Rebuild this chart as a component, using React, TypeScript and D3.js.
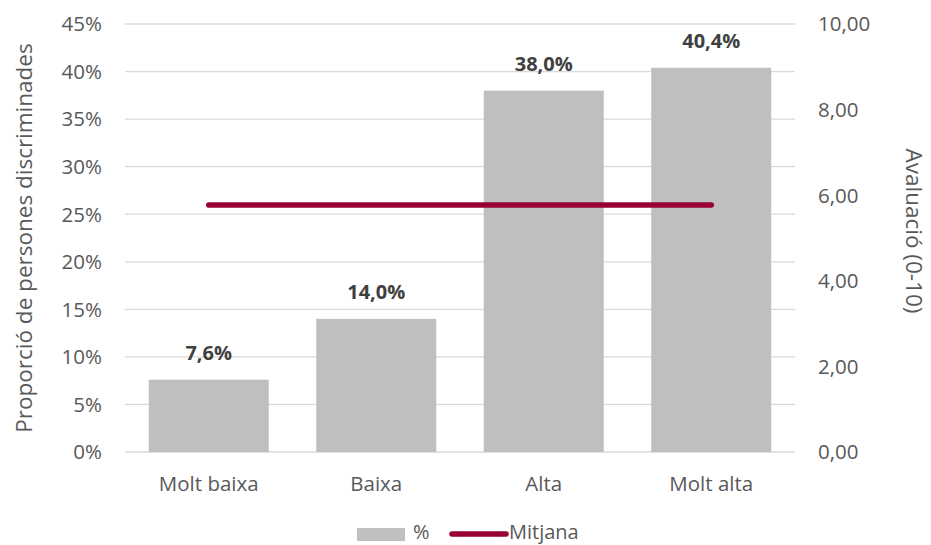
import React from "react";
import * as d3 from "d3";

const categories = ["Molt baixa", "Baixa", "Alta", "Molt alta"];
const percentValues = [7.6, 14.0, 38.0, 40.4];
const meanValues = [5.77, 5.77, 5.77, 5.77];
const leftTicks = [0, 5, 10, 15, 20, 25, 30, 35, 40, 45];
const rightTicks = [0, 2, 4, 6, 8, 10];

const W = 931;
const H = 545;
const M = { left: 125, right: 136, top: 24, bottom: 93 };
const FONT = "'Open Sans', 'Noto Sans', sans-serif";
const TXT = "#595959";

export default function App() {
  const x = d3
    .scaleBand<string>()
    .domain(categories)
    .range([M.left, W - M.right])
    .paddingInner(47.5 / 167.5)
    .paddingOuter((47.5 / 167.5) / 2);
  const yL = d3.scaleLinear().domain([0, 45]).range([H - M.bottom, M.top]);
  const yR = d3.scaleLinear().domain([0, 10]).range([H - M.bottom, M.top]);
  const fmtComma = (v: number, d: number) => v.toFixed(d).replace(".", ",");
  const line = d3
    .line<number>()
    .x((_, i) => (x(categories[i]) as number) + x.bandwidth() / 2)
    .y((d) => yR(d));

  return (
    <svg width={W} height={H} style={{ position: "absolute", left: 0, top: 0 }} fontFamily={FONT}>
      <rect width={W} height={H} fill="#fff" />
      {leftTicks.map((t) => (
        <g key={t}>
          <line x1={M.left} x2={W - M.right} y1={yL(t)} y2={yL(t)} stroke="#D9D9D9" strokeWidth={1.3} />
          <text x={102} y={yL(t)} dy="0.36em" textAnchor="end" fontSize={20.5} fill={TXT}>
            {t}%
          </text>
        </g>
      ))}
      {rightTicks.map((t) => (
        <text key={t} x={818} y={yR(t)} dy="0.36em" textAnchor="start" fontSize={20.5} fill={TXT}>
          {fmtComma(t, 2)}
        </text>
      ))}
      {categories.map((c, i) => (
        <g key={c}>
          <rect
            x={x(c)}
            y={yL(percentValues[i])}
            width={x.bandwidth()}
            height={yL(0) - yL(percentValues[i])}
            fill="#BFBFBF"
          />
          <text
            x={(x(c) as number) + x.bandwidth() / 2}
            y={yL(percentValues[i]) - 20}
            textAnchor="middle"
            fontSize={20}
            fontWeight="bold"
            fill="#404040"
          >
            {fmtComma(percentValues[i], 1)}%
          </text>
          <text
            x={(x(c) as number) + x.bandwidth() / 2}
            y={yL(0) + 39}
            textAnchor="middle"
            fontSize={20.5}
            fill={TXT}
          >
            {c}
          </text>
        </g>
      ))}
      <path d={line(meanValues) || ""} fill="none" stroke="#990033" strokeWidth={5.5} strokeLinecap="round" />
      <text
        transform={`translate(32,${(M.top + H - M.bottom) / 2}) rotate(-90)`}
        textAnchor="middle"
        fontSize={22.5}
        fill={TXT}
      >
        Proporció de persones discriminades
      </text>
      <text
        transform={`translate(906,231) rotate(90)`}
        textAnchor="middle"
        fontSize={22.5}
        fill={TXT}
      >
        Avaluació (0-10)
      </text>
      <rect x={357} y={528} width={48} height={13} fill="#BFBFBF" />
      <text x={413} y={539} fontSize={20} fill={TXT}>%</text>
      <line x1={452} x2={506} y1={534} y2={534} stroke="#990033" strokeWidth={5.5} strokeLinecap="round" />
      <text x={509} y={539} fontSize={20} fill={TXT}>Mitjana</text>
    </svg>
  );
}
